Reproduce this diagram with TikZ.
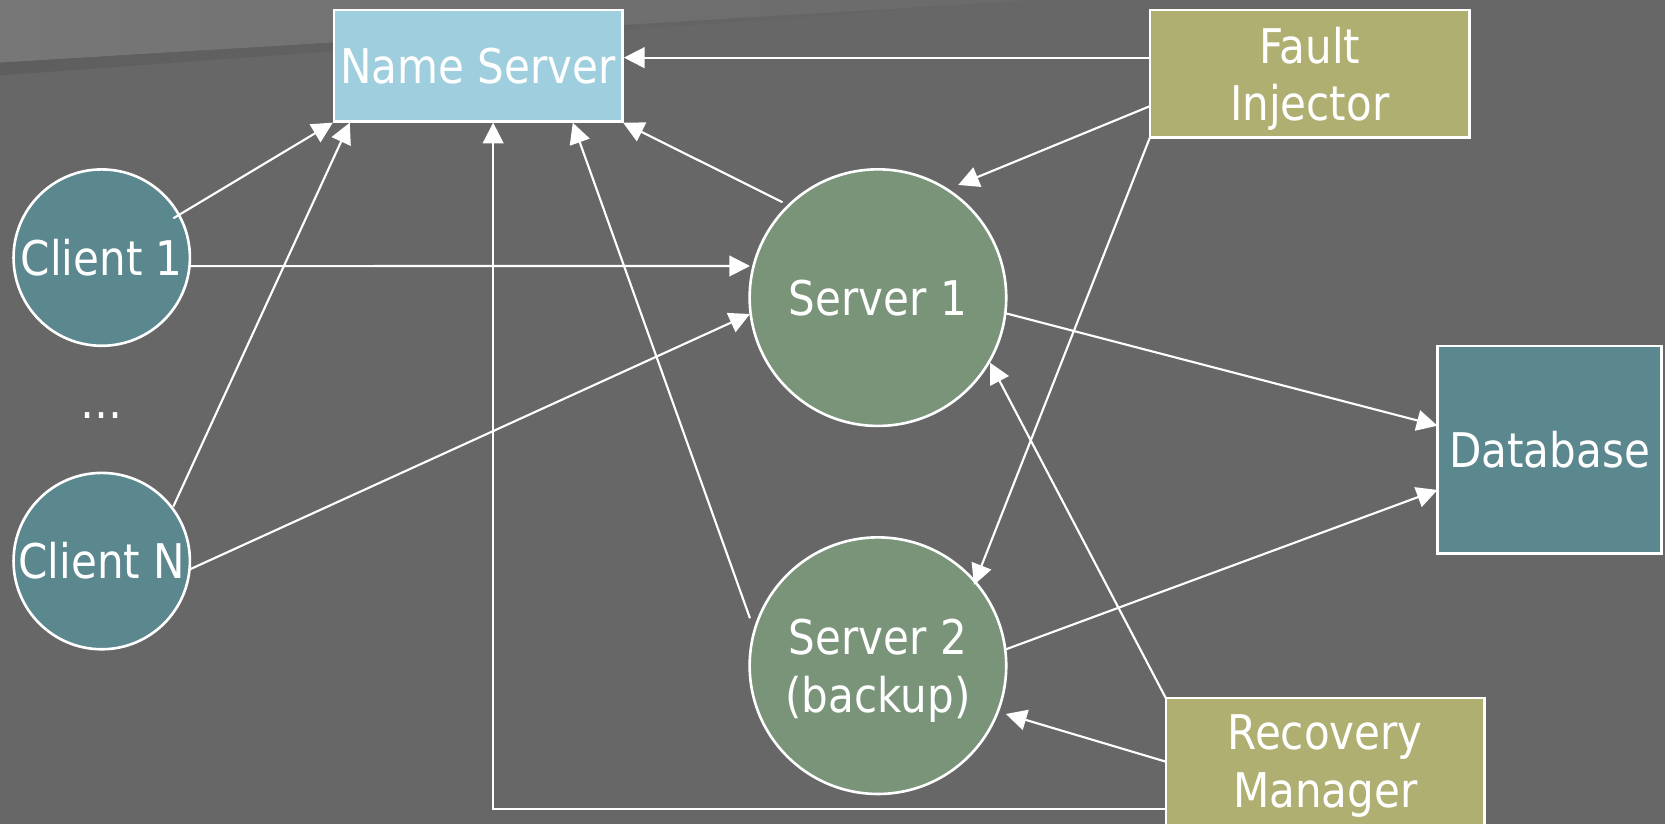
\documentclass[tikz,border=0pt]{standalone}
\usepackage{fontspec}
\setmainfont{DejaVu Sans}[FakeStretch=0.88]
\usetikzlibrary{arrows.meta,calc}
\definecolor{cbg}{HTML}{676767}
\definecolor{cbandL}{HTML}{777777}
\definecolor{cbandR}{HTML}{6A6A6A}
\definecolor{cdark}{HTML}{5E5E5E}
\definecolor{cnsblue}{HTML}{9FCFDE}
\definecolor{cteal}{HTML}{5B878F}
\definecolor{cgreen}{HTML}{7A947A}
\definecolor{colive}{HTML}{B0AF72}
\begin{document}
\begin{tikzpicture}[x=0.01cm,y=-0.01cm,
  every node/.style={text=white, font=\fontsize{12.8}{15.5}\selectfont, align=center, inner sep=0pt, outer sep=0pt},
  box/.style={draw=white, line width=0.7pt, rectangle},
  disc/.style={draw=white, line width=0.7pt, circle},
  conn/.style={draw=white, line width=0.57pt, -{Triangle[length=0.195cm,width=0.195cm]}}]
\useasboundingbox (0,0) rectangle (1568,776);
\clip (0,0) rectangle (1568,776);
% background
\fill[cbg] (0,0) rectangle (1568,776);
\shade[left color=cbandL, right color=cbandR] (0,0) -- (980,0) -- (0,59) -- cycle;
\shade[left color=cdark, right color=cbg] (0,59) -- (980,0) -- (0,71) -- cycle;
% nodes
\node[box, fill=cnsblue, minimum width=2.715cm, minimum height=1.05cm, text depth=-0.5pt] (ns) at (450.25,62) {Name Server};
\node[box, fill=colive, minimum width=3.01cm, minimum height=1.2cm, text depth=0pt] (fi) at (1233.5,69.5) {Fault\\Injector};
\node[box, fill=cteal, minimum width=2.11cm, minimum height=1.952cm] (db) at (1459.3,423.4) {Database};
\node[box, fill=colive, minimum width=3.0cm, minimum height=1.28cm] (rm) at (1248,721.5) {Recovery\\Manager};
\node[disc, fill=cteal, minimum size=1.66cm] (c1) at (95.8,242.6) {Client 1};
\node[disc, fill=cteal, minimum size=1.66cm] (cN) at (95.8,528.4) {Client N};
\node[anchor=base] (dots) at (95.8,394) {…};
\node[disc, fill=cgreen, minimum size=2.415cm, text depth=-0.5pt] (s1) at (826.8,280.3) {Server 1};
\node[disc, fill=cgreen, minimum size=2.415cm, text depth=0pt] (s2) at (826.8,626.9) {Server 2\\(backup)};
% connectors
\draw[conn] ($(c1)+(67.4,-37)$) -- ($(ns.south west)+(-1,1)$);
\draw[conn] ($(cN)+(67.4,-51.3)$) -- ($(ns.south west)+(15,1)$);
\draw[conn] ($(c1)+(83,8)$) -- ($(s1)+(-120.5,-29.8)$);
\draw[conn] ($(cN)+(83.2,7.7)$) -- ($(s1)+(-120.5,15.4)$);
\draw[conn] ($(s1)+(-89.8,-89.8)$) -- ($(ns.south east)+(0.7,1)$);
\draw[conn] ($(s2)+(-120.5,-44.6)$) -- ($(ns.south west)+(225,1)$);
\draw[conn] ($(fi.west)+(0,-15.2)$) -- ($(ns.east)+(1.5,-7.7)$);
\draw[conn] ($(fi.west)+(0,30.5)$) -- ($(s1)+(75.6,-106.1)$);
\draw[conn] (fi.south west) -- ($(s2)+(90.4,-76)$);
\draw[conn] ($(s1)+(120.6,14.8)$) -- ($(db.west)+(0,-22.5)$);
\draw[conn] ($(s2)+(120.5,-15.4)$) -- ($(db.west)+(0,38)$);
\draw[conn] (rm.north west) -- ($(s1)+(105.5,61.2)$);
\draw[conn] ($(rm.west)+(0,-4.2)$) -- ($(s2)+(120.5,45.5)$);
\draw[conn] ($(rm.north west)+(0,104.5)$) -| ($(ns.south west)+(150,1)$);
\end{tikzpicture}
\end{document}
